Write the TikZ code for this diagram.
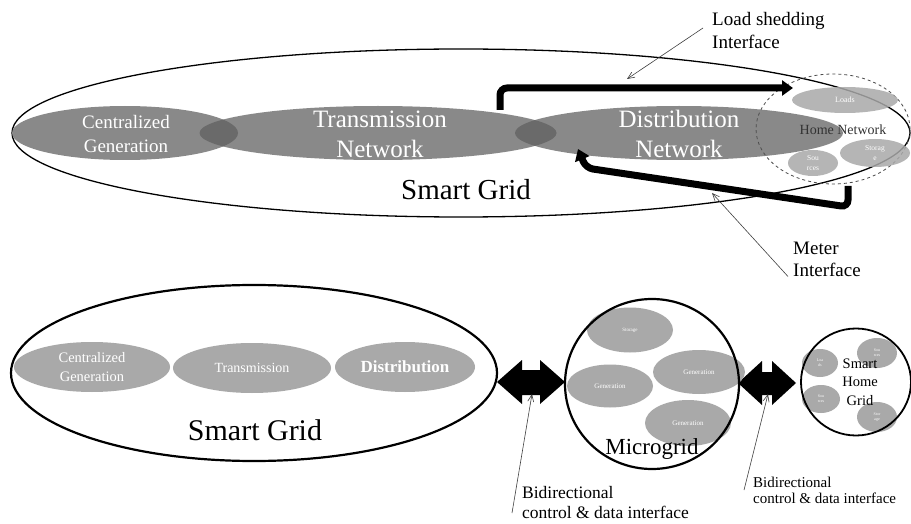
\documentclass[tikz,border=0pt]{standalone}
\usepackage{fontspec}
\setmainfont{Liberation Serif}
\usetikzlibrary{shapes.geometric,arrows.meta,calc}
\definecolor{gtop}{HTML}{898989}
\definecolor{gover}{HTML}{6A6A6A}
\definecolor{glight}{HTML}{A9A9A9}
\begin{document}
\begin{tikzpicture}[x=1pt,y=-1pt,
 gell/.style={ellipse, inner sep=0pt, fill=gtop},
 lell/.style={ellipse, inner sep=0pt, fill=glight},
 ring/.style={ellipse, inner sep=0pt, draw=black},
 wtxt/.style={text=white, align=center, inner sep=0pt},
 btxt/.style={text=black, align=center, inner sep=0pt},
 fat/.style={line width=7pt, rounded corners=7pt, -{Triangle[length=11pt,width=15pt]}},
 thinarr/.style={draw=black!75, line width=0.6pt, -{Straight Barb[length=7pt,width=6pt]}},
 lbl/.style={align=left, anchor=west, inner sep=0pt},
 fs/.style={font=\fontsize{#1}{#1}\selectfont}]
\useasboundingbox (0,0) rectangle (911,524);
\fill[white] (0,0) rectangle (911,524);

% ---------- top part ----------
\node[ring, line width=1.3pt, minimum width=898pt, minimum height=168pt] (sg) at (461,133) {};
\node[gell, minimum width=226pt, minimum height=54pt] (cg) at (125,133) {};
\node[gell, minimum width=357pt, minimum height=54pt] (tn) at (378,133) {};
\node[gell, minimum width=328pt, minimum height=54pt] (dn) at (679,133) {};
\begin{scope}
 \clip (125,133) ellipse [x radius=113pt, y radius=27pt];
 \fill[gover] (378,133) ellipse [x radius=178.5pt, y radius=27pt];
\end{scope}
\begin{scope}
 \clip (378,133) ellipse [x radius=178.5pt, y radius=27pt];
 \fill[gover] (679,133) ellipse [x radius=164pt, y radius=27pt];
\end{scope}
\node[wtxt, font=\fontsize{19}{24}\selectfont] (cgt) at (126,134) {Centralized\\Generation};
\node[wtxt, font=\fontsize{25}{30}\selectfont] (tnt) at (380,134) {Transmission\\Network};
\node[wtxt, font=\fontsize{25}{30}\selectfont] (dnt) at (679,134) {Distribution\\Network};
\node[btxt, fs=29] (sgt) at (466,190) {Smart Grid};

% home network
\node[ellipse, draw=black!70, dashed, line width=0.8pt, minimum width=154pt, minimum height=110pt] (hn) at (833,129) {};
\node[lell, fill opacity=0.85, minimum width=106pt, minimum height=26pt] (loads) at (845,100) {};
\node[lell, fill opacity=0.85, minimum width=50pt, minimum height=26pt] (src) at (813,163) {};
\node[lell, fill opacity=0.85, minimum width=70pt, minimum height=28pt] (sto) at (875,153) {};
\node[wtxt, fs=8] (loadst) at (loads.center) {Loads};
\node[wtxt, font=\fontsize{7.5}{10}\selectfont] (srct) at (src.center) {Sou\\rces};
\node[wtxt, font=\fontsize{7.5}{10}\selectfont] (stot) at (sto.center) {Storag\\e};
\node[text=black!80, inner sep=0pt, fs=14] (hnt) at (843,130) {Home Network};

% thick interface arrows
\coordinate (lsA) at (500,110);
\coordinate (lsB) at (793,88);
\draw[fat] (lsA) |- (lsB);
\coordinate (mA) at (848,186);
\coordinate (mB) at (848,207);
\coordinate (mC) at (586,168);
\coordinate (mD) at (578,149);
\draw[fat] (mA) -- (mB) -- (mC) -- (mD);

% labels top
\node[lbl, font=\fontsize{19}{23}\selectfont] (lsl) at (712,31) {Load shedding\\Interface};
\coordinate (lsT) at (627,79);
\draw[thinarr] ([shift={(-9,-3)}]lsl.west) -- (lsT);
\node[lbl, font=\fontsize{19}{22}\selectfont] (mil) at (793,259) {Meter\\Interface};
\coordinate (miT) at (712,193);
\draw[thinarr] ([xshift=-5pt]mil.south west) -- (miT);

% ---------- bottom part ----------
\node[ring, line width=2.2pt, minimum width=486pt, minimum height=176pt] (sg2) at (254,373) {};
\node[lell, minimum width=156pt, minimum height=50pt] (cg2) at (92,367) {};
\node[lell, minimum width=158pt, minimum height=50pt] (tn2) at (252,368) {};
\node[lell, minimum width=140pt, minimum height=50pt] (dn2) at (405,367) {};
\node[wtxt, font=\fontsize{14.5}{19}\selectfont] (cg2t) at (cg2.center) {Centralized\\Generation};
\node[wtxt, fs=14] (tn2t) at (tn2.center) {Transmission};
\node[wtxt, font=\bfseries\fontsize{17}{17}\selectfont] (dn2t) at (dn2.center) {Distribution};
\node[btxt, fs=30] (sg2t) at (255,430) {Smart Grid};

% double arrows
\fill[black] (497,382) -- (522,360) -- (522,370) -- (540,370) -- (540,360) -- (565,382)
  -- (540,404) -- (540,395) -- (522,395) -- (522,404) -- cycle;
\coordinate (da1) at (532,394);
\fill[black] (738,383) -- (762,361) -- (762,372) -- (772,372) -- (772,361) -- (796,383)
  -- (772,405) -- (772,395) -- (762,395) -- (762,405) -- cycle;
\coordinate (da2) at (768,394);

% microgrid
\node[lell, minimum width=86pt, minimum height=45pt] (mst) at (630,330) {};
\node[lell, minimum width=86pt, minimum height=43pt] (g1) at (610,386) {};
\node[lell, minimum width=92pt, minimum height=44pt] (g2) at (699,372) {};
\node[lell, minimum width=86pt, minimum height=46pt] (g3) at (688,423) {};
\node[wtxt, fs=5] (mstt) at (mst.center) {Storage};
\node[wtxt, fs=7] (g1t) at (g1.center) {Generation};
\node[wtxt, fs=7] (g2t) at (g2.center) {Generation};
\node[wtxt, fs=7] (g3t) at (g3.center) {Generation};
\node[ring, line width=2.2pt, minimum width=174pt, minimum height=170pt] (mg) at (652,384) {};
\node[btxt, fs=23] (mgt) at (652,449) {Microgrid};

% smart home grid
\node[lell, minimum width=36pt, minimum height=28pt] (hl) at (820,363) {};
\node[lell, minimum width=40pt, minimum height=30pt] (hs1) at (877,353) {};
\node[lell, minimum width=38pt, minimum height=28pt] (hs2) at (821,399) {};
\node[lell, minimum width=40pt, minimum height=30pt] (hst) at (877,417) {};
\node[wtxt, font=\fontsize{4}{5}\selectfont] (hlt) at (hl.center) {Loa\\ds};
\node[wtxt, font=\fontsize{4}{5}\selectfont] (hs1t) at (hs1.center) {Sou\\rces};
\node[wtxt, font=\fontsize{4}{5}\selectfont] (hs2t) at (hs2.center) {Sou\\rces};
\node[wtxt, font=\fontsize{4}{5}\selectfont] (hstt) at (hst.center) {Stor\\age};
\node[ring, line width=1.8pt, minimum width=110pt, minimum height=107pt] (sh) at (856,382) {};
\node[btxt, font=\fontsize{14.5}{18.5}\selectfont] (sht) at (860,382) {Smart\\Home\\Grid};

% bottom labels
\node[lbl, font=\fontsize{17.5}{20}\selectfont] (bl1) at (522,503) {Bidirectional\\control \& data interface};
\draw[thinarr] ([shift={(-10,10)}]bl1.west) -- (da1);
\node[lbl, font=\fontsize{15}{16}\selectfont] (bl2) at (753,490) {Bidirectional\\control \& data interface};
\draw[thinarr] ([xshift=-9pt]bl2.west) -- (da2);
\end{tikzpicture}
\end{document}
